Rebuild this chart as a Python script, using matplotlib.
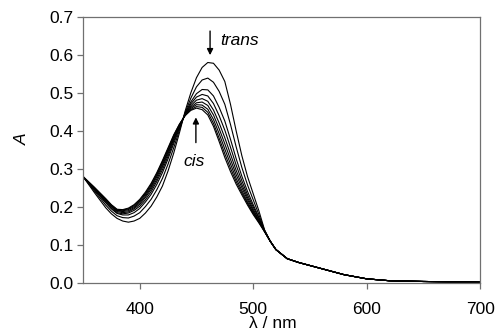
import numpy as np
import matplotlib
matplotlib.use('Agg')
import matplotlib.pyplot as plt

plt.rcParams['font.family'] = ['Liberation Sans', 'DejaVu Sans']

# wavelengths where the curves differ (nm)
wl_head = [350, 360, 370, 375, 380, 385, 390, 395, 400, 405, 410, 415, 420, 425, 430, 435,
           440, 445, 450, 455, 460, 465, 470, 475, 480, 485, 490, 495, 500, 505, 510, 515]
# wavelengths where all spectra coincide
wl_tail = [520, 530, 540, 550, 560, 580, 600, 620, 650, 700]
tail = [0.088, 0.064, 0.054, 0.046, 0.038, 0.022, 0.011, 0.006, 0.004, 0.002]

# absorbance, from trans (first) to cis (last)
a_trans = [0.280, 0.238, 0.198, 0.182, 0.170, 0.163, 0.160, 0.163, 0.170, 0.184, 0.202, 0.226,
           0.255, 0.295, 0.342, 0.395, 0.452, 0.500, 0.540, 0.567, 0.580, 0.578, 0.560, 0.530,
           0.470, 0.400, 0.335, 0.280, 0.235, 0.190, 0.140, 0.110]
a_2 = [0.280, 0.242, 0.205, 0.189, 0.177, 0.172, 0.171, 0.176, 0.185, 0.201, 0.220, 0.245,
       0.275, 0.313, 0.356, 0.402, 0.448, 0.486, 0.516, 0.534, 0.539, 0.528, 0.504, 0.470,
       0.417, 0.358, 0.304, 0.258, 0.219, 0.180, 0.139, 0.110]
a_3 = [0.280, 0.245, 0.211, 0.195, 0.183, 0.179, 0.179, 0.185, 0.196, 0.213, 0.233, 0.259,
       0.290, 0.327, 0.367, 0.407, 0.446, 0.476, 0.498, 0.509, 0.508, 0.492, 0.462, 0.426,
       0.378, 0.327, 0.281, 0.241, 0.206, 0.173, 0.137, 0.110]
a_4 = [0.280, 0.247, 0.213, 0.197, 0.185, 0.182, 0.184, 0.191, 0.202, 0.219, 0.240, 0.267,
       0.298, 0.334, 0.373, 0.410, 0.444, 0.471, 0.489, 0.496, 0.492, 0.472, 0.440, 0.402,
       0.357, 0.310, 0.269, 0.232, 0.200, 0.170, 0.137, 0.110]
a_5 = [0.280, 0.248, 0.216, 0.200, 0.188, 0.185, 0.187, 0.195, 0.207, 0.225, 0.246, 0.273,
       0.305, 0.340, 0.378, 0.412, 0.443, 0.466, 0.481, 0.485, 0.478, 0.455, 0.421, 0.382,
       0.339, 0.296, 0.259, 0.225, 0.194, 0.166, 0.136, 0.110]
a_6 = [0.280, 0.250, 0.218, 0.202, 0.190, 0.188, 0.190, 0.198, 0.211, 0.229, 0.251, 0.279,
       0.310, 0.345, 0.381, 0.414, 0.442, 0.462, 0.474, 0.476, 0.467, 0.442, 0.406, 0.366,
       0.325, 0.285, 0.251, 0.219, 0.190, 0.164, 0.136, 0.110]
a_7 = [0.280, 0.250, 0.219, 0.203, 0.191, 0.190, 0.193, 0.201, 0.215, 0.233, 0.255, 0.283,
       0.315, 0.349, 0.385, 0.416, 0.441, 0.459, 0.469, 0.468, 0.457, 0.430, 0.393, 0.352,
       0.313, 0.275, 0.243, 0.213, 0.186, 0.162, 0.136, 0.110]
a_8 = [0.280, 0.251, 0.221, 0.205, 0.193, 0.192, 0.195, 0.204, 0.218, 0.236, 0.259, 0.287,
       0.319, 0.353, 0.388, 0.417, 0.441, 0.456, 0.464, 0.462, 0.449, 0.420, 0.381, 0.340,
       0.302, 0.267, 0.237, 0.209, 0.183, 0.160, 0.135, 0.110]
a_cis = [0.280, 0.252, 0.222, 0.206, 0.194, 0.193, 0.197, 0.206, 0.220, 0.239, 0.262, 0.290,
         0.322, 0.356, 0.390, 0.418, 0.440, 0.454, 0.460, 0.456, 0.442, 0.412, 0.372, 0.330,
         0.293, 0.260, 0.232, 0.205, 0.180, 0.158, 0.135, 0.110]

spectra = [a_trans, a_2, a_3, a_4, a_5, a_6, a_7, a_8, a_cis]

fig = plt.figure(figsize=(4.97, 3.31), dpi=100)
ax = fig.add_axes([0.167, 0.145, 0.799, 0.804])

wl = wl_head + wl_tail
for a in spectra:
    ax.plot(wl, a + tail, color='black', linewidth=0.8)

ax.set_xlim(350, 700)
ax.set_ylim(0, 0.7)
ax.set_xticks([400, 500, 600, 700])
ax.set_yticks(np.arange(0, 0.71, 0.1))
ax.yaxis.set_major_formatter(matplotlib.ticker.FormatStrFormatter('%.1f'))

for s in ['top', 'right', 'left', 'bottom']:
    ax.spines[s].set_color('#707070')
    ax.spines[s].set_linewidth(0.9)
ax.tick_params(direction='out', length=4, width=0.9, color='#707070', labelsize=12.5)
ax.tick_params(axis='x', pad=10)
ax.tick_params(axis='y', pad=3)

ax.set_xlabel('λ / nm', fontsize=12.5)
ax.xaxis.set_label_coords(0.479, -0.125)
ax.set_ylabel('A', fontsize=12.5, style='italic')
ax.yaxis.set_label_coords(-0.135, 0.54)

ax.annotate('', xy=(462, 0.592), xytext=(462, 0.67),
            arrowprops=dict(arrowstyle='-|>', color='black', lw=1.0, mutation_scale=9))
ax.text(470.5, 0.637, 'trans', style='italic', fontsize=12.5, va='center', ha='left')
ax.annotate('', xy=(449.5, 0.443), xytext=(449.5, 0.362),
            arrowprops=dict(arrowstyle='-|>', color='black', lw=1.0, mutation_scale=9))
ax.text(448, 0.32, 'cis', style='italic', fontsize=12.5, va='center', ha='center')

fig.savefig('out.png', dpi=100)
